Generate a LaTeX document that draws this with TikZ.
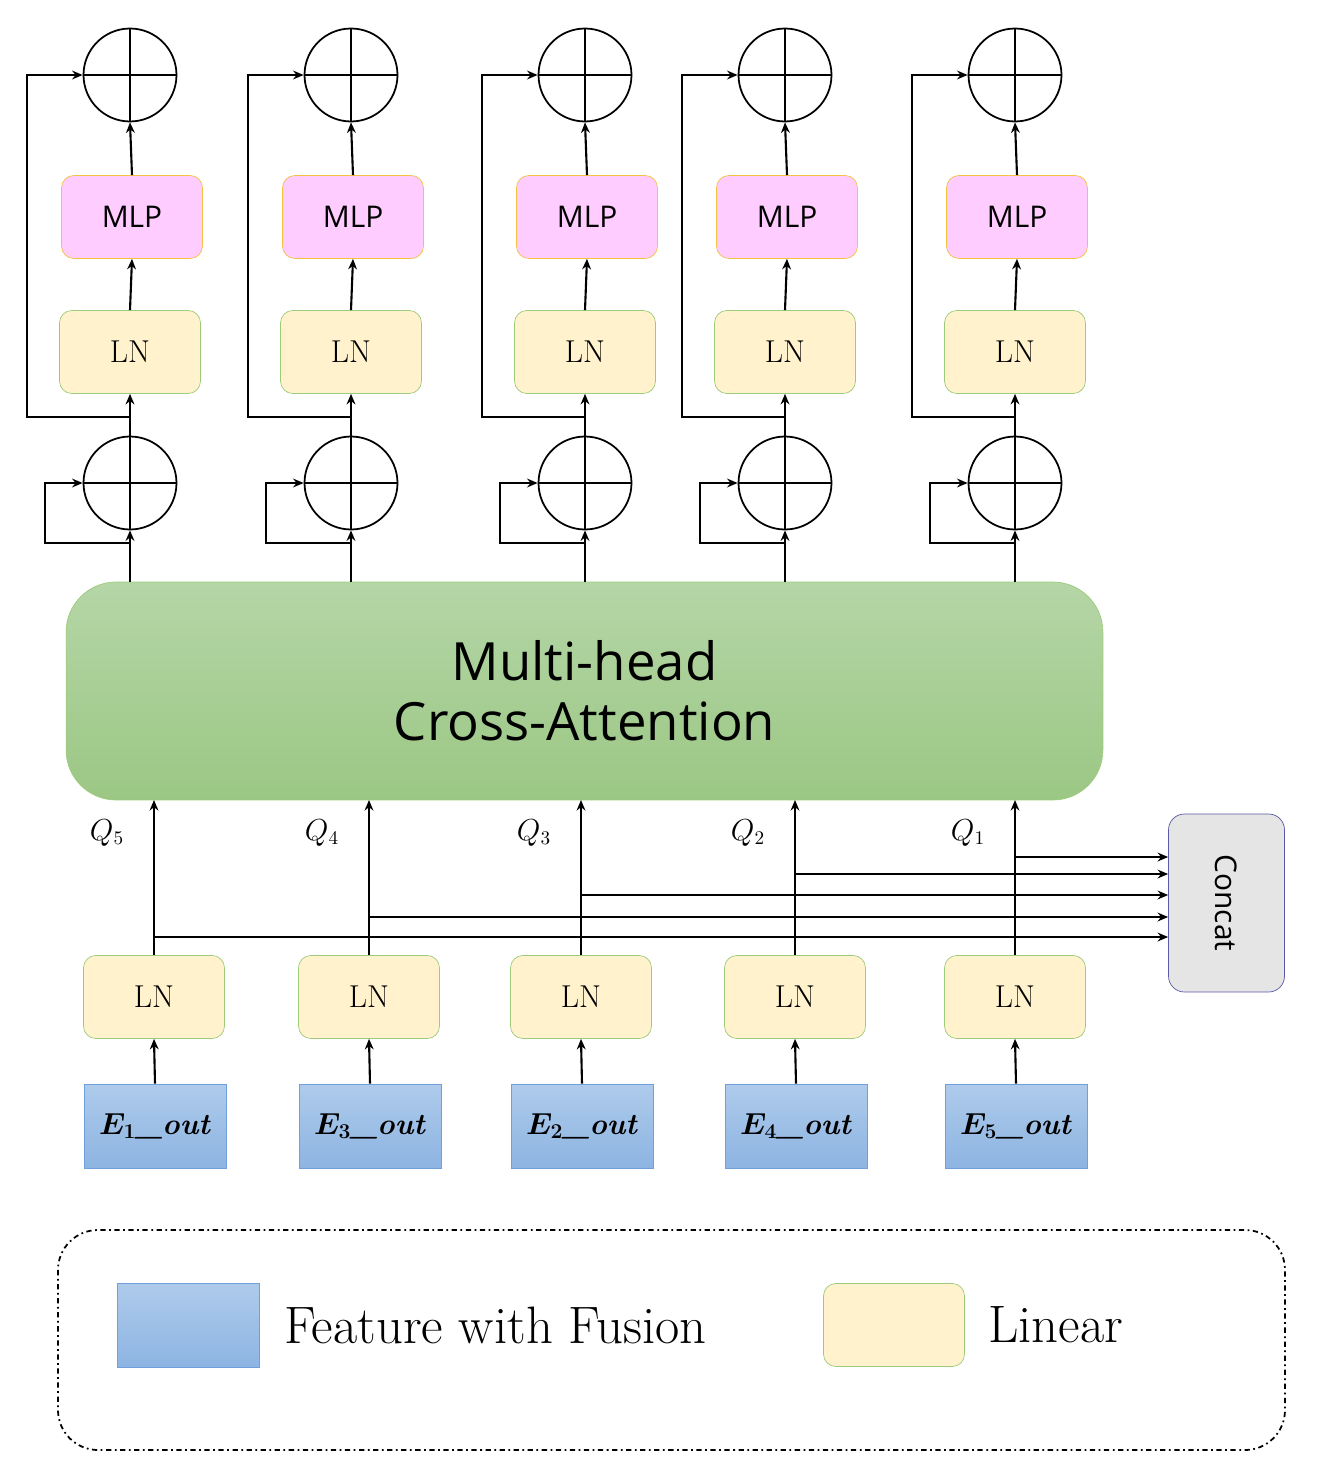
\documentclass[tikz,border=0pt]{standalone}
\usepackage{bm}
\usepackage{fontspec}
\newfontfamily\sansf{Open Sans}
\usetikzlibrary{arrows.meta}
\definecolor{lnfill}{HTML}{FFF2CC}
\definecolor{lnline}{HTML}{9CCB7A}
\definecolor{mlpfill}{HTML}{FFCCFF}
\definecolor{mlpline}{HTML}{F5C242}
\definecolor{efill1}{HTML}{AECBEB}
\definecolor{efill2}{HTML}{8DB4E2}
\definecolor{eline}{HTML}{6FA0DC}
\definecolor{att1}{HTML}{B5D6A7}
\definecolor{att2}{HTML}{9BC784}
\begin{document}
\begin{tikzpicture}[x=0.02cm,y=-0.02cm,
  ln/.style={draw=lnline,fill=lnfill,rounded corners=7pt,minimum width=2.82cm,minimum height=1.66cm,font=\fontsize{18}{20}\selectfont},
  mlp/.style={draw=mlpline,fill=mlpfill,rounded corners=7pt,minimum width=2.82cm,minimum height=1.66cm,font=\sansf\fontsize{17}{20}\selectfont},
  ebox/.style={draw=eline,top color=efill1,bottom color=efill2,minimum width=2.84cm,minimum height=1.68cm,font=\fontsize{17}{20}\selectfont},
  plus/.style={draw,circle,line width=1pt,minimum size=1.86cm,inner sep=0pt,path picture={\draw[line width=1pt](path picture bounding box.north)--(path picture bounding box.south)(path picture bounding box.west)--(path picture bounding box.east);}},
  arr/.style={line width=1.2pt,-{Stealth[length=6pt,width=5pt]}},
  ql/.style={font=\fontsize{16}{18}\selectfont}]
\useasboundingbox (0,0) rectangle (1317,1473);
% attention
\node[draw=lnline,rounded corners=1cm,top color=att1,bottom color=att2,minimum width=20.74cm,minimum height=4.36cm,align=center,font=\sansf\fontsize{30}{34}\selectfont] (att) at (584.5,691) {Multi-head\\Cross-Attention};
\foreach \i/\x in {1/130,2/351,3/585,4/785,5/1015}{
  \node[plus] (p\i) at (\x,75) {};
  \node[mlp] (m\i) at (\x+2,217) {MLP};
  \node[ln] (l\i) at (\x,352) {LN};
  \node[plus] (q\i) at (\x,483) {};
  \coordinate (a\i) at (\x,582);
  \coordinate (b\i) at (\x,543);
  \coordinate (c\i) at (\x,417);
  \draw[arr] (a\i) -- (q\i.south);
  \draw[line width=1.2pt] (b\i) -- ++(-85,0) -- ++(0,-60) -- ++(20,0);
  \draw[arr] (b\i) ++(-65,-60) -- (q\i.west);
  \draw[arr] (q\i.north) -- (l\i.south);
  \draw[arr] (l\i.north) -- (m\i.south);
  \draw[arr] (m\i.north) -- (p\i.south);
  \draw[line width=1.2pt] (c\i) -- ++(-103,0) -- ++(0,-342) -- ++(20,0);
  \draw[arr] (c\i) ++(-83,-342) -- (p\i.west);
}
% bottom
\node[draw=gray!70!blue,fill=gray!20,rounded corners=9pt,minimum width=2.32cm,minimum height=3.56cm] (cc) at (1226.5,903) {};
\node[rotate=-90,font=\sansf\fontsize{17}{20}\selectfont] at (cc) {Concat};
\foreach \i/\x/\e/\q/\y in {1/154/1/5/937,2/369/3/4/917,3/581/2/3/895,4/795/4/2/874,5/1015/5/1/857}{
  \node[ln] (L\i) at (\x,997) {LN};
  \node[ebox] (E\i) at (\x+1,1126) {$\bm{E_{\e}}$\textbf{\textit{\_out}}};
  \draw[arr] (E\i.north) -- (L\i.south);
  \draw[arr] (L\i.north) -- (\x,800);
  \node[ql] at (\x-47,833) {$Q_{\q}$};
  \coordinate (h\i) at (\x,\y);
  \draw[arr] (h\i) -- (cc.west|-h\i);
}
% legend
\draw[line width=1pt,dash dot,rounded corners=0.8cm] (58,1230) rectangle (1285,1450);
\node[ebox,minimum width=2.84cm] (lg1) at (188,1325) {};
\node[anchor=west,font=\fontsize{30}{34}\selectfont] (t1) at (278,1325) {Feature with Fusion};
\node[ln] (lg2) at (894,1325) {};
\node[anchor=west,font=\fontsize{30}{34}\selectfont] (t2) at (982,1325) {Linear};
\end{tikzpicture}
\end{document}
